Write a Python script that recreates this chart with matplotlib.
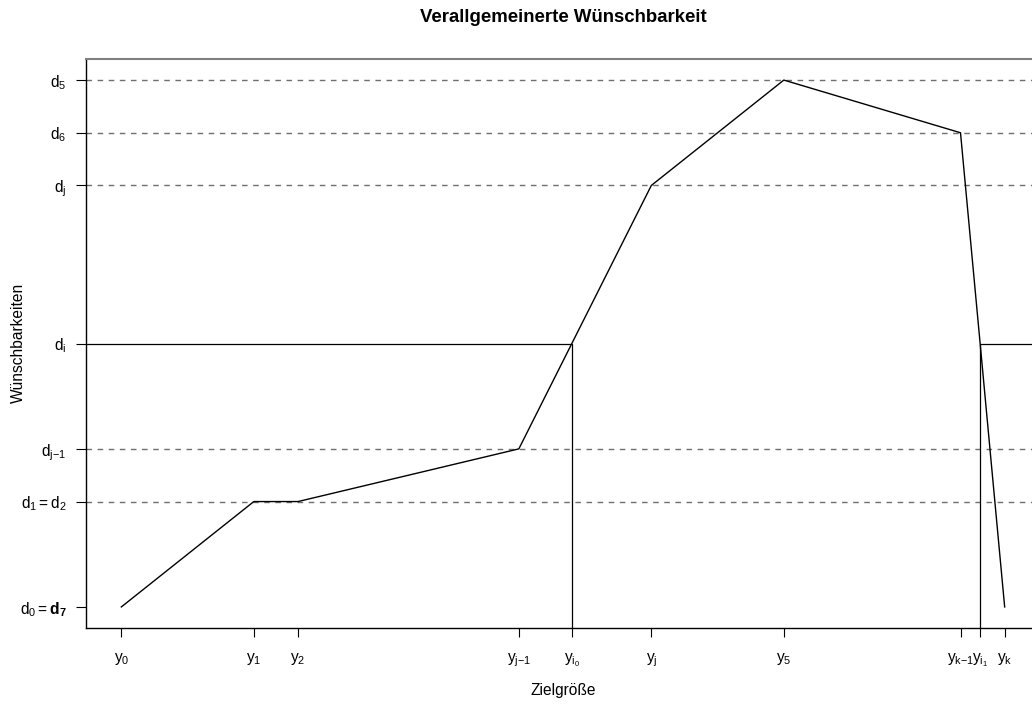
import matplotlib
matplotlib.use("Agg")
import matplotlib.pyplot as plt

plt.rcParams["font.family"] = ["Liberation Sans", "DejaVu Sans"]
plt.rcParams["mathtext.fontset"] = "custom"
plt.rcParams["mathtext.rm"] = "Liberation Sans"
plt.rcParams["mathtext.it"] = "Liberation Sans:italic"
plt.rcParams["mathtext.bf"] = "Liberation Sans:bold"

# Piecewise-linear desirability function
y_knots = [0, 3, 4, 9, 12, 15, 19, 20]
d_knots = [0.0, 0.2, 0.2, 0.3, 0.8, 1.0, 0.9, 0.0]

# Threshold desirability and the points where the curve crosses it
d_i = 0.5
y_i0 = 10.2
y_i1 = 19 + 0.4 / 0.9

x_tick_pos = [0, 3, 4, 9, y_i0, 12, 15, 19, y_i1, 20]
x_tick_lab = [r"$\mathrm{y}_{0}$", r"$\mathrm{y}_{1}$", r"$\mathrm{y}_{2}$",
              r"$\mathrm{y}_{\mathrm{j}{-}1}$", r"$\mathrm{y}_{\mathrm{i}_{0}}$",
              r"$\mathrm{y}_{\mathrm{j}}$", r"$\mathrm{y}_{5}$",
              r"$\mathrm{y}_{\mathrm{k}{-}1}$", r"$\mathrm{y}_{\mathrm{i}_{1}}$",
              r"$\mathrm{y}_{\mathrm{k}}$"]

y_tick_pos = [0.0, 0.2, 0.3, 0.5, 0.8, 0.9, 1.0]
y_tick_lab = [r"$\mathrm{d}_{0} = \mathbf{d}_{\mathbf{7}}$",
              r"$\mathrm{d}_{1} = \mathrm{d}_{2}$",
              r"$\mathrm{d}_{\mathrm{j}{-}1}$",
              r"$\mathrm{d}_{\mathrm{i}}$",
              r"$\mathrm{d}_{\mathrm{j}}$",
              r"$\mathrm{d}_{6}$",
              r"$\mathrm{d}_{5}$"]

# Reference levels drawn as dashed lines
dashed_levels = [0.2, 0.3, 0.8, 0.9, 1.0]

W, H = 1032, 706
fig = plt.figure(figsize=(W / 100, H / 100), dpi=100)
left, right, top, bottom = 86, 1040, 59, 628
ax = fig.add_axes([left / W, 1 - bottom / H, (right - left) / W, (bottom - top) / H])

x0, x1 = -0.8, 20.8
yb, yt = -0.04, 1.04
ax.set_xlim(x0, x1)
ax.set_ylim(yb, yt)

gray = "#6f6f6f"
for lev in dashed_levels:
    ax.plot([x0, x1], [lev, lev], color=gray, lw=1.0, dashes=(4, 4))

# Threshold lines
ax.plot([x0, y_i0, y_i0], [d_i, d_i, yb], color="black", lw=0.9)
ax.plot([y_i1, y_i1, x1], [yb, d_i, d_i], color="black", lw=0.9)

ax.plot(y_knots, d_knots, color="black", lw=1.0)

ax.spines["right"].set_visible(False)
ax.spines["top"].set_color("#7f7f7f")
ax.spines["top"].set_linewidth(1.5)
ax.spines["left"].set_linewidth(1.0)
ax.spines["bottom"].set_linewidth(1.0)

fs = 11.2
ax.set_xticks(x_tick_pos)
ax.set_xticklabels(x_tick_lab, fontsize=fs)
ax.set_yticks(y_tick_pos)
ax.set_yticklabels(y_tick_lab, fontsize=fs)
ax.tick_params(axis="x", length=6.5, width=0.8, pad=10)
ax.tick_params(axis="y", length=7, width=0.8, pad=7)

fig.text(563 / W, 1 - 18 / H, "Verallgemeinerte Wünschbarkeit",
         ha="center", va="center", fontsize=13.4, fontweight="bold")
fig.text(563 / W, 1 - 690 / H, "Zielgröße", ha="center", va="center", fontsize=fs)
fig.text(18 / W, 1 - 343 / H, "Wünschbarkeiten", ha="center", va="center",
         rotation=90, fontsize=fs)

fig.savefig("out.png", dpi=100)
